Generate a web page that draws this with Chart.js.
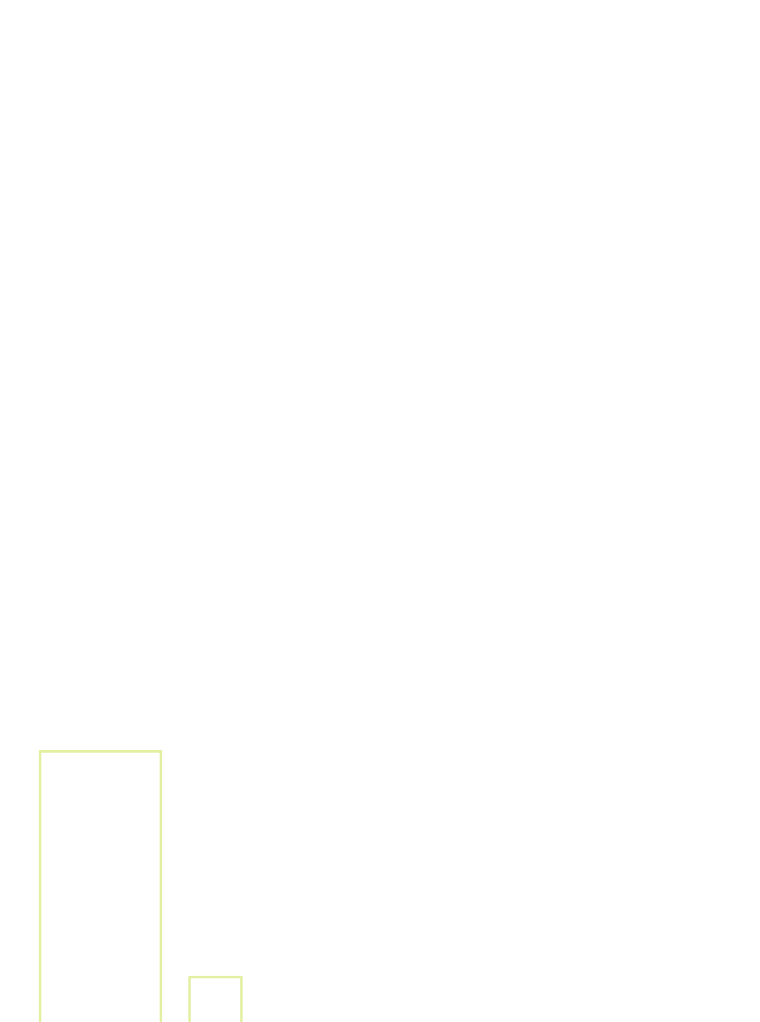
<!DOCTYPE html>
<html>
<head>
<meta charset="utf-8">
<script src="https://cdn.jsdelivr.net/npm/chart.js@4"></script>
<style>
  html, body { margin: 0; padding: 0; background: #ffffff; }
  #wrap { width: 760px; height: 1022px; position: relative; }
</style>
</head>
<body>
<div id="wrap"><canvas id="c"></canvas></div>
<script>
const categories = ['A', 'B'];
const seriesA = [59, null];
const seriesB = [null, 10];
const yMax = 222;

new Chart(document.getElementById('c'), {
  type: 'bar',
  data: {
    labels: categories,
    datasets: [
      {
        label: 'A',
        data: seriesA,
        backgroundColor: 'rgba(0,0,0,0)',
        borderColor: '#e3f0a2',
        borderWidth: 2,
        barThickness: 123,
        grouped: false,
        clip: false
      },
      {
        label: 'B',
        data: seriesB,
        backgroundColor: 'rgba(0,0,0,0)',
        borderColor: '#e3f0a2',
        borderWidth: 2,
        barThickness: 54,
        grouped: false,
        clip: false
      }
    ]
  },
  options: {
    responsive: true,
    maintainAspectRatio: false,
    animation: false,
    layout: { padding: { left: 43, right: 487, top: 0, bottom: 0 } },
    plugins: { legend: { display: false }, tooltip: { enabled: false } },
    scales: {
      x: { display: false },
      y: { display: false, min: 0, max: yMax }
    }
  }
});
</script>
</body>
</html>
